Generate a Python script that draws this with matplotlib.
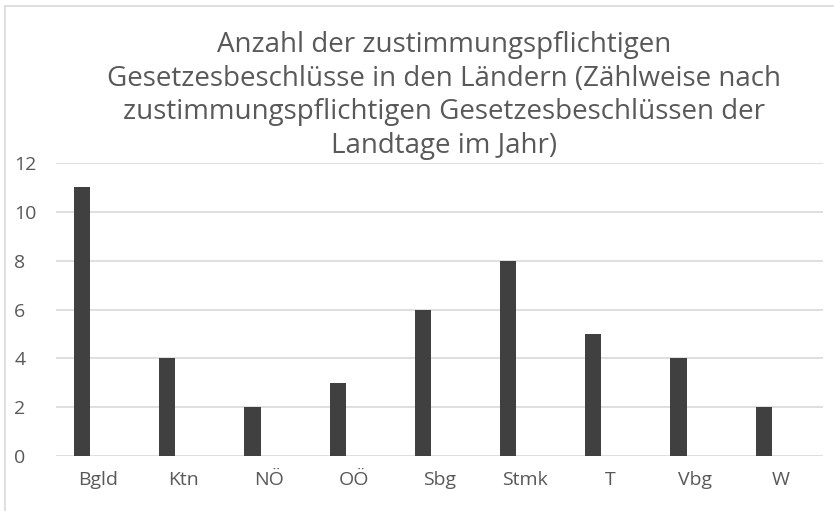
import matplotlib
matplotlib.use("Agg")
import matplotlib.pyplot as plt
from matplotlib.patches import Rectangle
import numpy as np

laender = ["Bgld", "Ktn", "NÖ", "OÖ", "Sbg", "Stmk", "T", "Vbg", "W"]
beschluesse = [11, 4, 2, 3, 6, 8, 5, 4, 2]

title = ("Anzahl der zustimmungspflichtigen\n"
         "Gesetzesbeschlüsse in den Ländern (Zählweise nach\n"
         "zustimmungspflichtigen Gesetzesbeschlüssen der\n"
         "Landtage im Jahr)")

plt.rcParams['font.family'] = ['Open Sans', 'DejaVu Sans']

fig = plt.figure(figsize=(8.34, 5.11), dpi=100)
ax = fig.add_axes([0.0671, 0.1076, 0.9197, 0.5734])

x = np.arange(len(laender))
ax.bar(x - 0.195, beschluesse, width=0.19, color='#404040', zorder=3)

ax.set_xlim(-0.5, len(laender) - 0.5)
ax.set_ylim(0, 12)
ax.set_yticks(range(0, 13, 2))
ax.set_xticks(x)
ax.set_xticklabels(laender)
ax.tick_params(axis='both', length=0, labelsize=14, colors='#595959')
ax.tick_params(axis='x', pad=11)
ax.tick_params(axis='y', pad=30)
for lab in ax.get_yticklabels():
    lab.set_horizontalalignment('left')
ax.grid(axis='y', color='#d9d9d9', linewidth=1.2, zorder=0)
for s in ax.spines.values():
    s.set_visible(False)

fig.text(0.532, 0.813, title, ha='center', va='center', fontsize=20,
         color='#595959', linespacing=1.26)

# chart frame
fig.patches.append(Rectangle((5 / 834, -0.1), 1.2, (511 - 6) / 511 + 0.1,
                             transform=fig.transFigure, fill=False,
                             edgecolor='#d9d9d9', linewidth=1.2))

fig.savefig("out.png", dpi=100)
